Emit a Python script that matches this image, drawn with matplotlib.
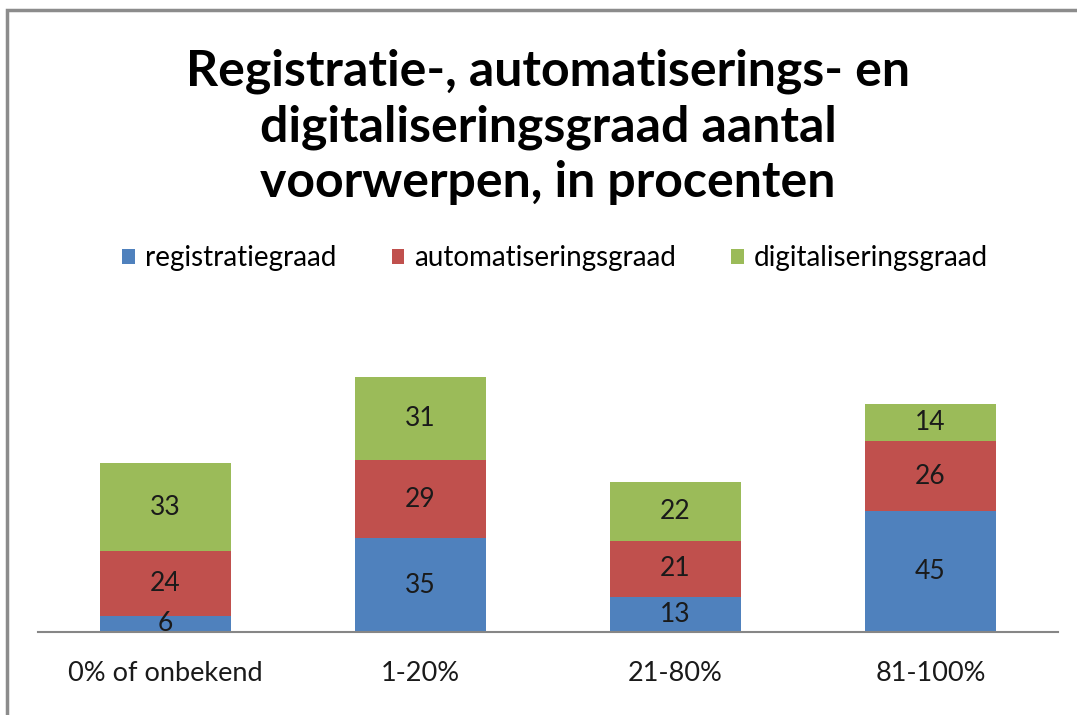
import matplotlib
matplotlib.use("Agg")
import matplotlib.pyplot as plt
from matplotlib.patches import Rectangle, Patch

categories = ['0% of onbekend', '1-20%', '21-80%', '81-100%']
registratie = [6, 35, 13, 45]
automatisering = [24, 29, 21, 26]
digitalisering = [33, 31, 22, 14]
series_names = ['registratiegraad', 'automatiseringsgraad', 'digitaliseringsgraad']
colors = ['#4F81BD', '#C0504D', '#9BBB59']

plt.rcParams['font.family'] = ['Lato', 'DejaVu Sans']

W, H = 1077, 715
fig = plt.figure(figsize=(W / 100, H / 100), dpi=100)
fig.patch.set_facecolor('white')

# outer chart frame (cut off at right and bottom)
fig.patches.append(Rectangle((7 / W, -0.1), 1.2, 1.1 - 10 / H,
                             transform=fig.transFigure, fill=False,
                             edgecolor='#8c8c8c', linewidth=2.5))

ax = fig.add_axes([38 / W, (H - 632) / H, 1020 / W, 268.4 / H])
x = range(len(categories))
bottom = [0] * len(categories)
for vals, name, col in zip([registratie, automatisering, digitalisering], series_names, colors):
    ax.bar(x, vals, width=0.51, bottom=bottom, color=col, label=name)
    for xi, b, v in zip(x, bottom, vals):
        ax.text(xi, b + v / 2, str(v), ha='center', va='center',
                fontsize=19, color='#1a1a1a')
    bottom = [b + v for b, v in zip(bottom, vals)]

ax.set_xlim(-0.5, len(categories) - 0.5)
ax.set_ylim(0, 100)
ax.set_yticks([])
ax.set_xticks(list(x))
ax.set_xticklabels(categories, fontsize=19.5, color='#1a1a1a')
ax.tick_params(axis='x', length=0, pad=21)
for s in ['top', 'right', 'left']:
    ax.spines[s].set_visible(False)
ax.spines['bottom'].set_color('#868686')
ax.spines['bottom'].set_linewidth(1.5)

fig.text(548 / W, 1 - 127 / H,
         'Registratie-, automatiserings- en\ndigitaliseringsgraad aantal\nvoorwerpen, in procenten',
         ha='center', va='center', fontsize=36, fontweight='bold',
         linespacing=1.28, color='black')

handles = [Patch(facecolor=c) for c in colors]
fig.legend(handles, series_names, loc='center', bbox_to_anchor=(555 / W, 1 - 258 / H),
           ncol=3, frameon=False, fontsize=20, handlelength=0.45, handleheight=0.45,
           handletextpad=0.35, columnspacing=2.0)

fig.savefig('out.png', dpi=100)
